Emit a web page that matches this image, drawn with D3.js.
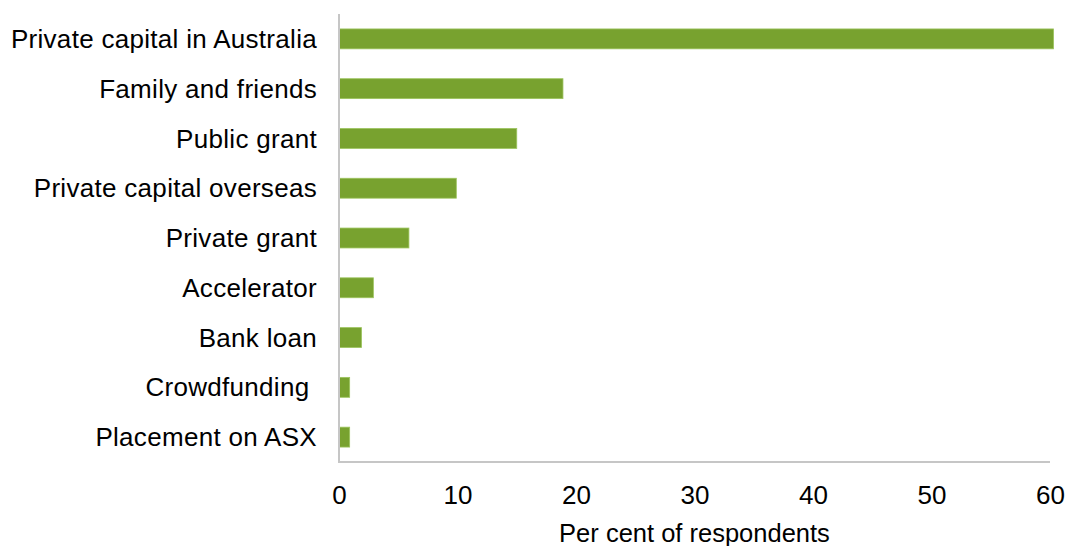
<!DOCTYPE html>
<html><head><meta charset="utf-8">
<script src="https://cdn.jsdelivr.net/npm/d3@7/dist/d3.min.js"></script>
<style>html,body{margin:0;padding:0;background:#fff}svg{display:block}text{font-family:"Liberation Sans",Arial,sans-serif;fill:#000}</style>
</head><body>
<svg id="c" width="1065" height="546"></svg>
<script>
const categories = ["Private capital in Australia","Family and friends","Public grant","Private capital overseas","Private grant","Accelerator","Bank loan","Crowdfunding ","Placement on ASX"];
const values = [60.3, 18.9, 15, 9.9, 5.9, 2.9, 1.9, 0.9, 0.9];
const ticks = [0,10,20,30,40,50,60];
const axisTitle = "Per cent of respondents";

const svg = d3.select("#c");
const x = d3.scaleLinear().domain([0,60]).range([339,1050]);
const y = d3.scaleBand().domain(categories).range([14,462]).paddingInner(0.6).paddingOuter(0.3);

svg.selectAll("rect.bar").data(categories).enter().append("rect")
  .attr("class","bar")
  .attr("x", x(0))
  .attr("y", d=>y(d))
  .attr("width", (d,i)=>x(values[i])-x(0))
  .attr("height", y.bandwidth())
  .attr("fill","#78a22f")
  .attr("stroke","#9cc45e").attr("stroke-width",0.8);

// axes lines
svg.append("line").attr("x1",x(0)).attr("x2",x(0)).attr("y1",14).attr("y2",462)
  .attr("stroke","#c6c6c6").attr("stroke-width",2);
svg.append("line").attr("x1",x(0)-1).attr("x2",x(60)).attr("y1",462).attr("y2",462)
  .attr("stroke","#c6c6c6").attr("stroke-width",2);

// category labels
const yAxis = d3.axisLeft(y).tickSize(0).tickPadding(22);
const gy = svg.append("g").attr("transform",`translate(${x(0)},0)`).call(yAxis);
gy.select(".domain").remove();
gy.selectAll("text").style("font-size","26px").style("letter-spacing","0.3px").style("white-space","pre").attr("dy","0.35em").attr("fill","#000")
  .style("font-family",'"Liberation Sans",Arial,sans-serif');

// x tick labels
const xAxis = d3.axisBottom(x).tickValues(ticks).tickSize(0).tickPadding(24).tickFormat(d3.format("d"));
const gx = svg.append("g").attr("transform","translate(0,462)").call(xAxis);
gx.select(".domain").remove();
gx.selectAll("text").style("font-size","26px").attr("fill","#000")
  .style("font-family",'"Liberation Sans",Arial,sans-serif');

svg.append("text").attr("x",(x(0)+x(60))/2).attr("y",542).attr("text-anchor","middle")
  .style("font-size","25.5px").text(axisTitle);
</script>
</body></html>
